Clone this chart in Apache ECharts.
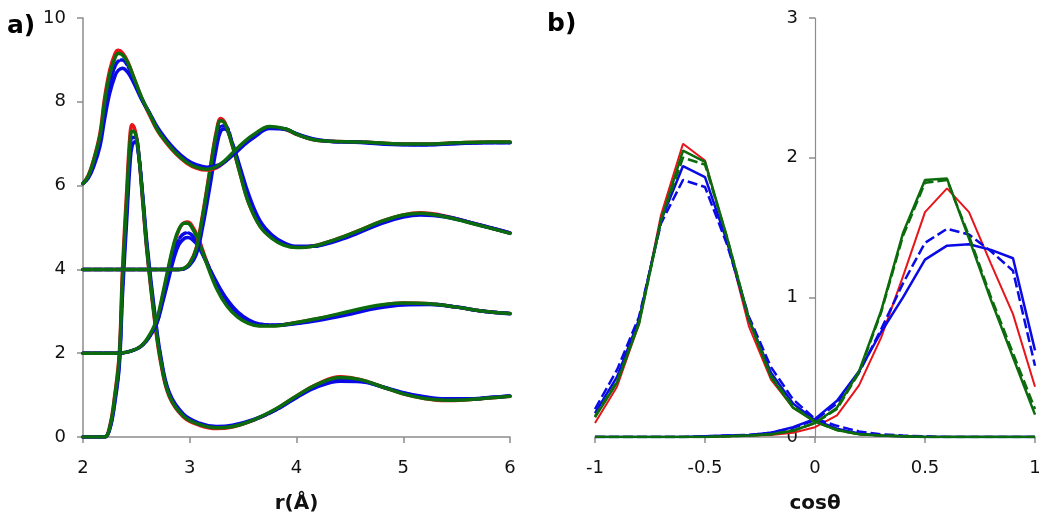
<!DOCTYPE html>
<html>
<head>
<meta charset="utf-8">
<script src="https://cdn.jsdelivr.net/npm/echarts@6/dist/echarts.min.js"></script>
<style>
html,body{margin:0;padding:0;background:#fff;}
#chart{width:1050px;height:525px;}
</style>
</head>
<body>
<div id="chart"></div>
<script>
// ---------- Panel a: g(r) curves (offset by 0, 2, 4, 6) ----------
const rC0 = [2.0, 2.2, 2.25, 2.3, 2.34, 2.37, 2.41, 2.44, 2.46, 2.49, 2.52, 2.56, 2.6, 2.67, 2.73, 2.81, 2.94, 3.09, 3.25, 3.4, 3.6, 3.8, 4.0, 4.2, 4.41, 4.6, 4.8, 5.0, 5.2, 5.4, 5.6, 5.8, 6.0];
const c0Red      = [0, 0, 0.25, 1.05, 2.0, 4.0, 5.9, 7.2, 7.45, 7.3, 6.8, 5.6, 4.4, 2.8, 1.75, 0.95, 0.48, 0.28, 0.2, 0.24, 0.4, 0.65, 0.98, 1.27, 1.44, 1.37, 1.2, 1.03, 0.92, 0.87, 0.89, 0.93, 0.97];
const c0Green    = [0, 0, 0.22, 1.0, 1.9, 3.8, 5.7, 7.0, 7.3, 7.25, 6.8, 5.65, 4.45, 2.85, 1.8, 0.98, 0.5, 0.3, 0.22, 0.25, 0.41, 0.66, 0.98, 1.26, 1.42, 1.37, 1.2, 1.03, 0.92, 0.88, 0.89, 0.93, 0.97];
const c0Blue     = [0, 0, 0.18, 0.85, 1.7, 3.4, 5.2, 6.5, 6.95, 7.05, 6.75, 5.75, 4.6, 3.0, 1.9, 1.05, 0.55, 0.33, 0.25, 0.28, 0.42, 0.64, 0.94, 1.2, 1.33, 1.32, 1.2, 1.06, 0.96, 0.91, 0.91, 0.94, 0.98];
const c0BlueDash = [0, 0, 0.2, 0.92, 1.8, 3.6, 5.45, 6.8, 7.15, 7.15, 6.8, 5.7, 4.5, 2.92, 1.85, 1.0, 0.52, 0.31, 0.23, 0.26, 0.41, 0.64, 0.95, 1.22, 1.36, 1.34, 1.2, 1.05, 0.95, 0.9, 0.9, 0.94, 0.98];

const rC2 = [2.0, 2.3, 2.4, 2.5, 2.56, 2.62, 2.69, 2.75, 2.8, 2.85, 2.9, 2.95, 2.98, 3.02, 3.08, 3.15, 3.25, 3.35, 3.45, 3.55, 3.65, 3.8, 3.95, 4.2, 4.5, 4.75, 5.0, 5.25, 5.5, 5.75, 6.0];
const c2Red      = [2.0, 2.0, 2.02, 2.1, 2.2, 2.4, 2.75, 3.4, 4.0, 4.55, 4.95, 5.12, 5.13, 5.05, 4.75, 4.25, 3.6, 3.15, 2.88, 2.73, 2.66, 2.66, 2.71, 2.82, 2.98, 3.12, 3.2, 3.18, 3.1, 3.0, 2.95];
const c2Green    = [2.0, 2.0, 2.02, 2.1, 2.21, 2.42, 2.8, 3.45, 4.05, 4.6, 4.97, 5.1, 5.1, 5.0, 4.7, 4.2, 3.55, 3.12, 2.86, 2.71, 2.65, 2.65, 2.71, 2.83, 3.0, 3.14, 3.2, 3.18, 3.1, 3.0, 2.95];
const c2Blue     = [2.0, 2.0, 2.02, 2.1, 2.2, 2.38, 2.7, 3.25, 3.75, 4.25, 4.6, 4.74, 4.76, 4.72, 4.55, 4.2, 3.7, 3.28, 2.98, 2.8, 2.7, 2.67, 2.69, 2.78, 2.93, 3.07, 3.15, 3.16, 3.1, 3.0, 2.94];
const c2BlueDash = [2.0, 2.0, 2.02, 2.1, 2.2, 2.39, 2.72, 3.3, 3.82, 4.35, 4.72, 4.86, 4.87, 4.82, 4.62, 4.22, 3.68, 3.25, 2.95, 2.78, 2.69, 2.67, 2.7, 2.8, 2.96, 3.1, 3.17, 3.17, 3.1, 3.0, 2.95];

const rC4 = [2.0, 2.9, 2.95, 3.0, 3.06, 3.12, 3.19, 3.25, 3.29, 3.33, 3.4, 3.47, 3.55, 3.66, 3.77, 3.88, 4.0, 4.15, 4.35, 4.56, 4.8, 5.0, 5.16, 5.4, 5.7, 6.0];
const c4Red      = [4.0, 4.0, 4.03, 4.15, 4.5, 5.3, 6.4, 7.3, 7.6, 7.5, 6.95, 6.3, 5.6, 5.03, 4.75, 4.6, 4.53, 4.56, 4.7, 4.9, 5.15, 5.3, 5.35, 5.27, 5.07, 4.87];
const c4Green    = [4.0, 4.0, 4.03, 4.14, 4.48, 5.25, 6.35, 7.25, 7.55, 7.48, 6.95, 6.3, 5.6, 5.02, 4.74, 4.58, 4.52, 4.55, 4.7, 4.9, 5.15, 5.3, 5.34, 5.25, 5.06, 4.86];
const c4Blue     = [4.0, 4.0, 4.02, 4.1, 4.35, 5.0, 6.0, 6.9, 7.3, 7.35, 7.0, 6.45, 5.8, 5.15, 4.82, 4.64, 4.55, 4.55, 4.66, 4.85, 5.1, 5.25, 5.3, 5.25, 5.07, 4.87];
const c4BlueDash = [4.0, 4.0, 4.02, 4.12, 4.4, 5.1, 6.15, 7.05, 7.42, 7.42, 7.0, 6.4, 5.72, 5.1, 4.8, 4.62, 4.54, 4.55, 4.68, 4.88, 5.12, 5.27, 5.32, 5.26, 5.07, 4.87];

const rC6 = [2.0, 2.05, 2.1, 2.16, 2.2, 2.25, 2.3, 2.33, 2.37, 2.42, 2.47, 2.55, 2.63, 2.7, 2.78, 2.87, 2.97, 3.06, 3.16, 3.28, 3.41, 3.5, 3.6, 3.75, 3.9, 4.0, 4.15, 4.3, 4.6, 4.9, 5.2, 5.5, 5.8, 6.0];
const c6Red      = [6.05, 6.25, 6.62, 7.26, 8.05, 8.75, 9.15, 9.23, 9.17, 8.95, 8.62, 8.08, 7.65, 7.3, 7.02, 6.76, 6.54, 6.42, 6.37, 6.47, 6.78, 7.0, 7.2, 7.4, 7.34, 7.22, 7.1, 7.06, 7.04, 7.0, 6.99, 7.02, 7.04, 7.04];
const c6Green    = [6.05, 6.23, 6.6, 7.2, 7.95, 8.65, 9.05, 9.15, 9.12, 8.93, 8.62, 8.1, 7.68, 7.32, 7.04, 6.78, 6.56, 6.44, 6.39, 6.5, 6.8, 7.02, 7.22, 7.41, 7.35, 7.23, 7.1, 7.06, 7.04, 7.0, 6.99, 7.02, 7.04, 7.04];
const c6Blue     = [6.05, 6.18, 6.45, 6.95, 7.55, 8.2, 8.62, 8.75, 8.8, 8.7, 8.48, 8.05, 7.7, 7.38, 7.1, 6.84, 6.62, 6.5, 6.44, 6.5, 6.74, 6.95, 7.15, 7.36, 7.34, 7.24, 7.12, 7.06, 7.03, 6.98, 6.97, 7.0, 7.02, 7.02];
const c6BlueDash = [6.05, 6.2, 6.52, 7.08, 7.72, 8.42, 8.85, 8.97, 9.0, 8.85, 8.57, 8.08, 7.7, 7.35, 7.07, 6.8, 6.58, 6.46, 6.41, 6.48, 6.76, 6.98, 7.18, 7.38, 7.35, 7.23, 7.11, 7.06, 7.04, 6.99, 6.98, 7.01, 7.03, 7.03];

// ---------- Panel b: angular distributions ----------
const cosT = [-1, -0.9, -0.8, -0.7, -0.6, -0.5, -0.4, -0.3, -0.2, -0.1, 0, 0.1, 0.2, 0.3, 0.4, 0.5, 0.6, 0.7, 0.8, 0.9, 1];
const lRed       = [0.10, 0.36, 0.81, 1.59, 2.10, 1.98, 1.41, 0.79, 0.41, 0.21, 0.11, 0.05, 0.02, 0.01, 0.005, 0, 0, 0, 0, 0, 0];
const lGreen     = [0.14, 0.39, 0.81, 1.55, 2.05, 1.97, 1.43, 0.84, 0.43, 0.21, 0.11, 0.05, 0.02, 0.01, 0.005, 0, 0, 0, 0, 0, 0];
const lGreenDash = [0.15, 0.40, 0.82, 1.55, 2.00, 1.95, 1.43, 0.84, 0.44, 0.22, 0.11, 0.05, 0.02, 0.01, 0.005, 0, 0, 0, 0, 0, 0];
const lBlue      = [0.17, 0.43, 0.84, 1.55, 1.94, 1.86, 1.40, 0.84, 0.46, 0.24, 0.12, 0.06, 0.025, 0.01, 0.005, 0, 0, 0, 0, 0, 0];
const lBlueDash  = [0.20, 0.48, 0.86, 1.53, 1.84, 1.79, 1.38, 0.86, 0.50, 0.27, 0.13, 0.08, 0.04, 0.02, 0.01, 0.005, 0, 0, 0, 0, 0];
const rRed       = [0, 0, 0, 0, 0, 0, 0.005, 0.01, 0.015, 0.03, 0.07, 0.155, 0.37, 0.71, 1.15, 1.61, 1.78, 1.61, 1.24, 0.88, 0.36];
const rGreen     = [0, 0, 0, 0, 0, 0, 0.005, 0.01, 0.02, 0.045, 0.10, 0.21, 0.47, 0.90, 1.46, 1.84, 1.85, 1.42, 0.98, 0.57, 0.16];
const rGreenDash = [0, 0, 0, 0, 0, 0, 0.005, 0.01, 0.02, 0.045, 0.10, 0.20, 0.46, 0.89, 1.44, 1.82, 1.84, 1.44, 1.00, 0.60, 0.20];
const rBlue      = [0, 0, 0, 0, 0, 0.005, 0.01, 0.015, 0.03, 0.07, 0.13, 0.26, 0.47, 0.75, 1.00, 1.27, 1.37, 1.38, 1.34, 1.28, 0.62];
const rBlueDash  = [0, 0, 0, 0, 0, 0.005, 0.01, 0.015, 0.03, 0.065, 0.12, 0.24, 0.46, 0.77, 1.10, 1.39, 1.49, 1.45, 1.33, 1.19, 0.51];

const RED = '#e8141a', GREEN = '#0c6b0c', BLUE = '#0a0ae6';
const AXIS = '#8c8c8c';
const FONT = 'DejaVu Sans';

function zip(xs, ys) { return xs.map((x, i) => [x, ys[i]]); }

const series = [];
function addA(xs, ys, color, dashed) {
  series.push({
    type: 'line', xAxisIndex: 0, yAxisIndex: 0, data: zip(xs, ys),
    symbol: 'none', smooth: 0.4,
    lineStyle: { color: color, width: 3.5, type: dashed ? [8, 3] : 'solid', cap: 'round', join: 'round' },
    z: 2
  });
}
function addB(ys, color, dashed, width) {
  series.push({
    type: 'line', xAxisIndex: 1, yAxisIndex: 1, data: zip(cosT, ys),
    symbol: 'none', smooth: false,
    lineStyle: { color: color, width: width, type: dashed ? [10, 4] : 'solid' },
    z: 2
  });
}
[[rC0, c0Red, c0BlueDash, c0Blue, c0Green],
 [rC2, c2Red, c2BlueDash, c2Blue, c2Green],
 [rC4, c4Red, c4BlueDash, c4Blue, c4Green],
 [rC6, c6Red, c6BlueDash, c6Blue, c6Green]].forEach(c => {
  addA(c[0], c[1], RED, false);
  addA(c[0], c[3], BLUE, false);
  addA(c[0], c[2], BLUE, true);
  addA(c[0], c[4], GREEN, false);
});
addB(lRed, RED, false, 2); addB(rRed, RED, false, 2);
addB(lBlue, BLUE, false, 2.5); addB(rBlue, BLUE, false, 2.5);
addB(lBlueDash, BLUE, true, 2.5); addB(rBlueDash, BLUE, true, 2.5);
addB(lGreenDash, GREEN, true, 2.5); addB(rGreenDash, GREEN, true, 2.5);
addB(lGreen, GREEN, false, 2.5); addB(rGreen, GREEN, false, 2.5);

const axisCommon = {
  axisLine: { show: true, onZero: false, lineStyle: { color: AXIS, width: 1.5 } },
  axisTick: { show: true, length: 6, lineStyle: { color: AXIS, width: 1.5 } },
  splitLine: { show: false },
  axisLabel: { color: '#111', fontSize: 18, fontFamily: FONT, margin: 17 }
};

const option = {
  animation: false,
  backgroundColor: '#fff',
  grid: [
    { left: 83, top: 18, width: 427, height: 419 },
    { left: 595, top: 18, width: 440, height: 419 }
  ],
  xAxis: [
    Object.assign({}, axisCommon, {
      type: 'value', gridIndex: 0, min: 2, max: 6, interval: 1,
      name: 'r(Å)', nameLocation: 'middle', nameGap: 57,
      nameTextStyle: { fontSize: 20, fontWeight: 'bold', fontFamily: FONT, color: '#111' },
      axisLabel: Object.assign({}, axisCommon.axisLabel, { margin: 22 })
    }),
    Object.assign({}, axisCommon, {
      type: 'value', gridIndex: 1, min: -1, max: 1, interval: 0.5,
      name: 'cosθ', nameLocation: 'middle', nameGap: 57,
      nameTextStyle: { fontSize: 20, fontWeight: 'bold', fontFamily: FONT, color: '#111' },
      axisLabel: Object.assign({}, axisCommon.axisLabel, { margin: 22, formatter: v => String(v) })
    })
  ],
  yAxis: [
    Object.assign({}, axisCommon, {
      type: 'value', gridIndex: 0, min: 0, max: 10, interval: 2
    }),
    Object.assign({}, axisCommon, {
      type: 'value', gridIndex: 1, min: 0, max: 3, interval: 1,
      position: 'left', offset: -220,
      axisLine: { show: true, onZero: false, lineStyle: { color: AXIS, width: 1.2 } }
    })
  ],
  graphic: [
    { type: 'text', left: 7, top: 14, style: { text: 'a)', font: 'bold 25px "DejaVu Sans"', fill: '#000' } },
    { type: 'text', left: 547, top: 12, style: { text: 'b)', font: 'bold 25px "DejaVu Sans"', fill: '#000' } }
  ],
  series: series
};

const chart = echarts.init(document.getElementById('chart'), null, { renderer: 'canvas' });
chart.setOption(option);
</script>
</body>
</html>
